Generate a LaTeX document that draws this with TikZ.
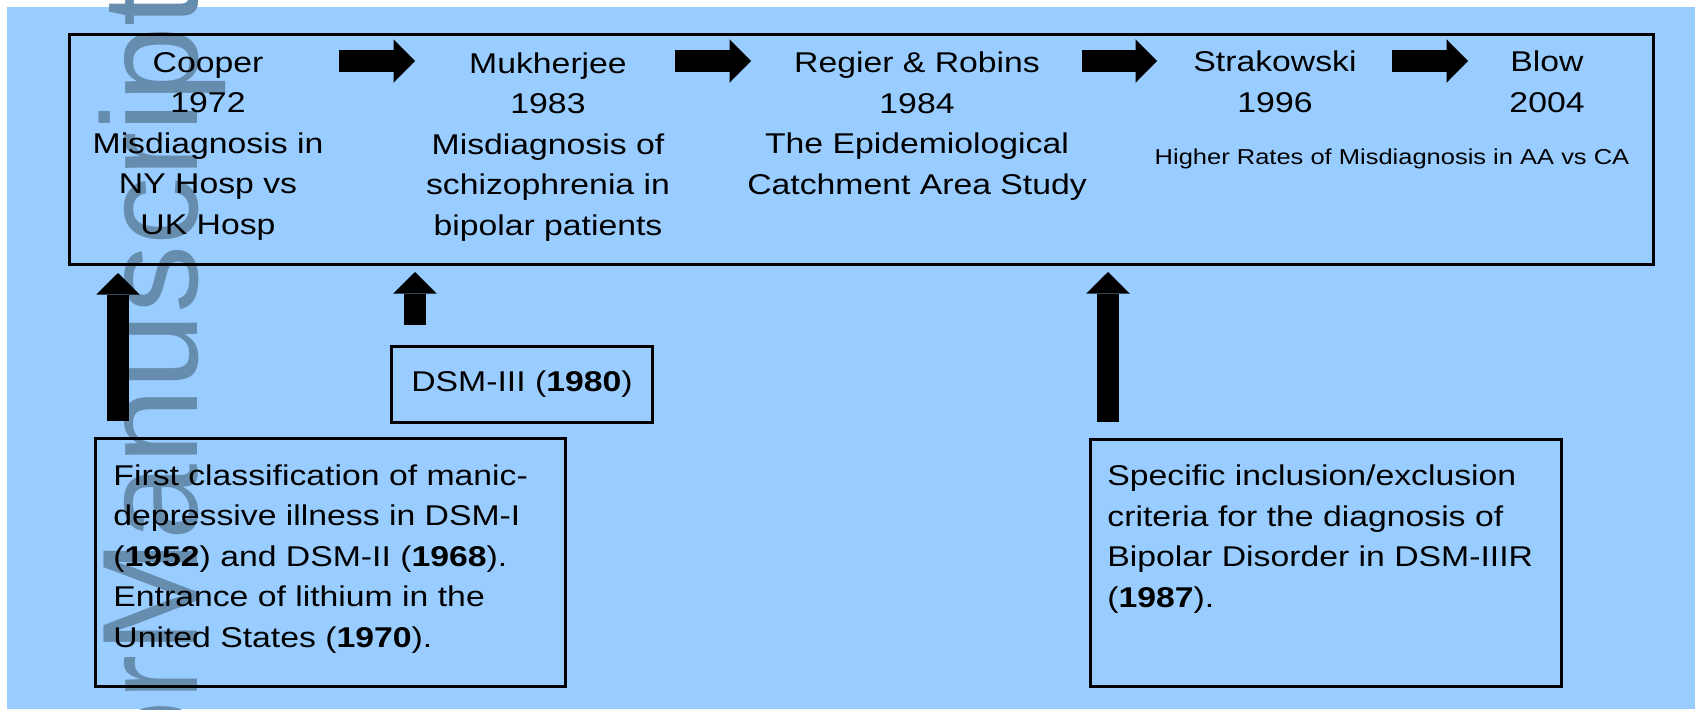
\documentclass[tikz,border=0pt]{standalone}
\usepackage{fontspec}
\setmainfont{Liberation Sans}[FakeStretch=1.18]
\newfontfamily\wmfont{Liberation Sans}
\usetikzlibrary{arrows.meta,calc,positioning}
\definecolor{bgblue}{RGB}{153,204,255}
\definecolor{wmgray}{RGB}{102,140,174}

\begin{document}
\begin{tikzpicture}[x=0.5pt,y=-0.5pt,
    tbox/.style={draw=black,line width=1.5pt,rectangle,inner sep=0pt},
    ctext/.style={align=center,inner sep=0pt,font=\fontsize{14.3pt}{20.25pt}\selectfont},
    ltext/.style={align=left,inner sep=0pt,font=\fontsize{14.3pt}{20.25pt}\selectfont},
    barrow/.style={line width=10.75pt,-{Triangle[length=10.75pt,width=21.75pt,line width=0pt]}}]
                      \useasboundingbox (0,0) rectangle (1695,709);
                      \fill[white] (0,0) rectangle (1695,709);
                      \fill[bgblue] (7,7) rectangle (1695,709);

                      % watermark
                      \begin{scope}
                      \clip (0,0) rectangle (1695,709);
                      \node[rotate=90,anchor=base east,inner sep=0pt,text=wmgray,font=\wmfont\fontsize{68pt}{68pt}\selectfont] (wmark) at (197,-12) {Author\hskip1pt Manuscript};
                      \end{scope}

                      % time line (nodes anchored at the baseline of their last line)
                      \node[tbox,anchor=north west,minimum width=792pt,minimum height=115pt] (timeline) at (68,33) {};
                      \node[ctext,anchor=base] (cooper) at (208,234) {Cooper\\1972\\Misdiagnosis in\\NY Hosp vs\\UK Hosp};
                      \node[ctext,anchor=base] (mukherjee) at (548,235) {Mukherjee\\1983\\Misdiagnosis of\\schizophrenia in\\bipolar patients};
                      \node[ctext,anchor=base] (regier) at (917,194) {Regier \& Robins\\1984\\The Epidemiological\\Catchment Area Study};
                      \node[ctext,anchor=base] (strakowski) at (1275,112) {Strakowski\\1996};
                      \node[ctext,anchor=base] (blow) at (1547,112) {Blow\\2004};
                      \node[ctext,anchor=base,font=\fontsize{10.8pt}{13pt}\selectfont] (higher) at (1392,164) {Higher Rates of Misdiagnosis in AA vs CA};

                      \coordinate (h1s) at (339,61); \coordinate (h1e) at (415,61);
                      \coordinate (h2s) at (675,61); \coordinate (h2e) at (751,61);
                      \coordinate (h3s) at (1082,61); \coordinate (h3e) at (1157,61);
                      \coordinate (h4s) at (1392,61); \coordinate (h4e) at (1468,61);
                      \draw[barrow] (h1s) -- (h1e);
                      \draw[barrow] (h2s) -- (h2e);
                      \draw[barrow] (h3s) -- (h3e);
                      \draw[barrow] (h4s) -- (h4e);

                      % classification boxes
                      \node[tbox,font=\fontsize{14.3pt}{20.25pt}\selectfont,minimum width=130.5pt,minimum height=38pt] (dsm) at (522,384) {DSM-III (\textbf{1980})};
                      \node[tbox,anchor=north west,minimum width=235pt,minimum height=124pt] (classbox) at (94,437) {};
                      \node[ltext,anchor=base west] (classtext) at (113,647) {First classification of manic-\\depressive illness in DSM-I\\(\textbf{1952}) and DSM-II (\textbf{1968}).\\Entrance of lithium in the\\United States (\textbf{1970}).};
                      \node[tbox,anchor=north west,minimum width=235.5pt,minimum height=123.5pt] (critbox) at (1089,438) {};
                      \node[ltext,anchor=base west] (crittext) at (1107,607) {Specific inclusion/exclusion\\criteria for the diagnosis of\\Bipolar Disorder in DSM-IIIR\\(\textbf{1987}).};

                      \coordinate (u1) at (118,0);
                      \coordinate (u2) at (415,0);
                      \coordinate (u3) at (1108,0);
                      \draw[barrow,shorten <=8pt,shorten >=3.5pt] (classbox.north -| u1) -- (timeline.south -| u1);
                      \draw[barrow,shorten <=10pt,shorten >=3pt] (dsm.north -| u2) -- (timeline.south -| u2);
                      \draw[barrow,shorten <=8pt,shorten >=3pt] (critbox.north -| u3) -- (timeline.south -| u3);
                    \end{tikzpicture}
\end{document}
